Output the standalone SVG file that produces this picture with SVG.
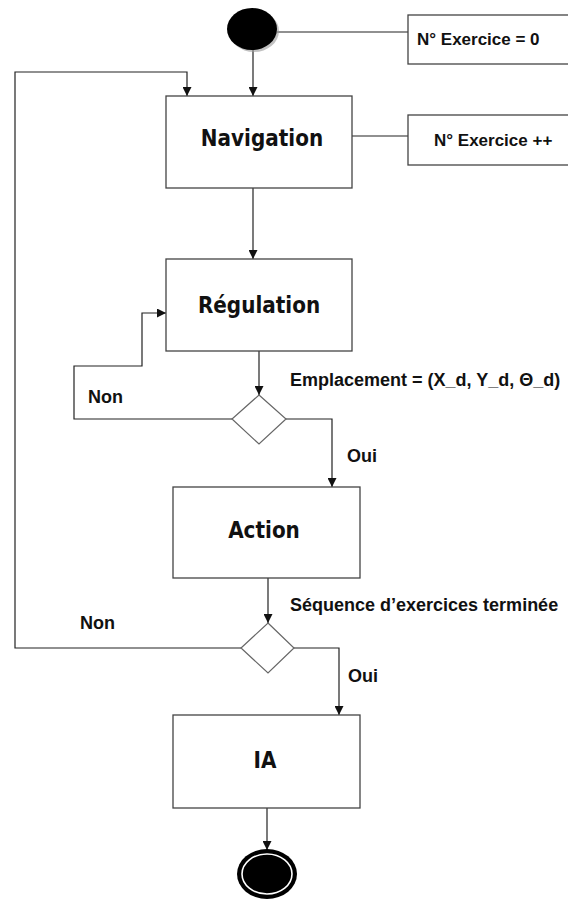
<svg xmlns="http://www.w3.org/2000/svg" width="568" height="900" viewBox="0 0 568 900">
  <defs>
    <marker id="arrow" viewBox="0 0 10 10" refX="10" refY="5" markerWidth="9" markerHeight="9" markerUnits="userSpaceOnUse" orient="auto">
      <path d="M0,0 L10,5 L0,10 Z" fill="#111"/>
    </marker>
  </defs>
  <style>
    .box { fill: #fff; stroke: #444; stroke-width: 1.3; }
    .diamond { fill: #fff; stroke: #666; stroke-width: 1.2; }
    .line { fill: none; stroke: #222; stroke-width: 1.2; }
    .arrow { marker-end: url(#arrow); }
    .title { font-family: "DejaVu Sans", Verdana, sans-serif; font-weight: bold; font-size: 20px; fill: #111; text-anchor: middle; }
    .label { font-family: "Liberation Sans", Arial, sans-serif; font-weight: bold; font-size: 18px; fill: #111; }
    .note { font-family: "Liberation Sans", Arial, sans-serif; font-weight: bold; font-size: 17px; fill: #111; }
  </style>

  <rect width="568" height="900" fill="#fff"/>

  <!-- connectors -->
  <g id="connectors">
    <!-- initial state to counter reset note -->
    <path class="line" d="M277,32 H408"/>
    <!-- navigation to counter increment note -->
    <path class="line" d="M352,136 H408"/>
    <!-- initial state to navigation -->
    <path class="line arrow" d="M253,50 V96"/>
    <!-- navigation to regulation -->
    <path class="line arrow" d="M253,188 V259"/>
    <!-- regulation to first decision -->
    <path class="line arrow" d="M259,351 V395"/>
    <!-- first decision: Non loops back to regulation -->
    <path class="line arrow" d="M232,419 H74 V366 H142 V313 H166"/>
    <!-- first decision: Oui goes to action -->
    <path class="line arrow" d="M286,419 H332 V487"/>
    <!-- action to second decision -->
    <path class="line arrow" d="M268,578 V623"/>
    <!-- second decision: Non loops back to navigation -->
    <path class="line arrow" d="M241,648 H15 V72 H187 V96"/>
    <!-- second decision: Oui goes to IA -->
    <path class="line arrow" d="M294,648 H339 V715"/>
    <!-- IA to final state -->
    <path class="line arrow" d="M267,808 V850"/>
  </g>

  <!-- initial state -->
  <g id="start">
    <ellipse cx="254" cy="31" rx="25" ry="21" fill="#999" opacity="0.6"/>
    <ellipse cx="252" cy="29" rx="25" ry="21" fill="#000"/>
  </g>

  <!-- counter reset note -->
  <g id="note-reset">
    <rect class="box" x="408" y="15" width="170" height="49"/>
    <text class="note" x="417" y="45">N° Exercice = 0</text>
  </g>

  <!-- counter increment note -->
  <g id="note-increment">
    <rect class="box" x="408" y="115" width="170" height="50"/>
    <text class="note" x="434" y="146">N° Exercice ++</text>
  </g>

  <g id="navigation">
    <rect class="box" x="166" y="96" width="186" height="92"/>
    <text class="title" transform="translate(262,146) scale(1,1.15)">Navigation</text>
  </g>

  <g id="regulation">
    <rect class="box" x="166" y="259" width="186" height="92"/>
    <text class="title" transform="translate(259,313) scale(1,1.15)">Régulation</text>
  </g>

  <g id="decision-position">
    <path class="diamond" d="M259,395 L286,419 L259,444 L232,419 Z"/>
    <text class="label" x="290" y="386">Emplacement = (X_d, Y_d, Θ_d)</text>
    <text class="label" x="88" y="403">Non</text>
    <text class="label" x="347" y="462">Oui</text>
  </g>

  <g id="action">
    <rect class="box" x="173" y="487" width="187" height="91"/>
    <text class="title" transform="translate(264,538) scale(1,1.15)">Action</text>
  </g>

  <g id="decision-sequence">
    <path class="diamond" d="M268,623 L294,648 L268,673 L241,648 Z"/>
    <text class="label" x="290" y="611">Séquence d’exercices  terminée</text>
    <text class="label" x="80" y="629">Non</text>
    <text class="label" x="348" y="682">Oui</text>
  </g>

  <g id="ia">
    <rect class="box" x="173" y="715" width="187" height="93"/>
    <text class="title" transform="translate(265,768) scale(1,1.15)">IA</text>
  </g>

  <!-- final state -->
  <g id="end">
    <ellipse cx="267" cy="874" rx="30" ry="25" fill="#000"/>
    <ellipse cx="267" cy="874" rx="25" ry="20" fill="none" stroke="#fff" stroke-width="1.6"/>
  </g>
</svg>
